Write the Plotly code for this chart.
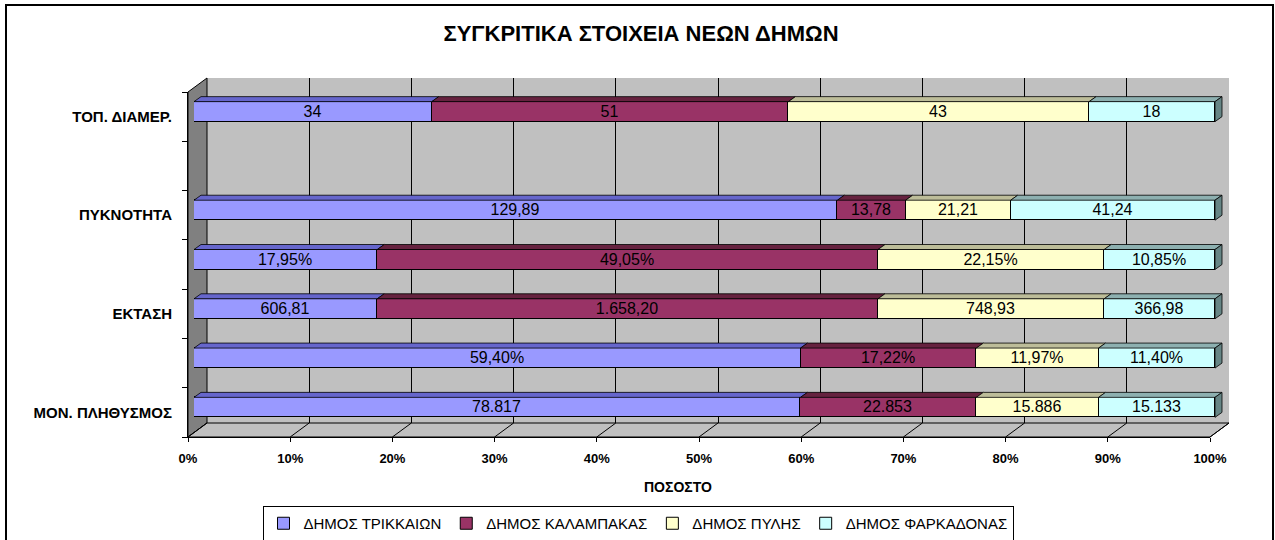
import plotly.graph_objects as go

# ---------------- data ----------------
categories = ["ΜΟΝ. ΠΛΗΘΥΣΜΟΣ", "", "ΕΚΤΑΣΗ", "", "ΠΥΚΝΟΤΗΤΑ", "", "ΤΟΠ. ΔΙΑΜΕΡ."]
series_names = ["ΔΗΜΟΣ ΤΡΙΚΚΑΙΩΝ", "ΔΗΜΟΣ ΚΑΛΑΜΠΑΚΑΣ", "ΔΗΜΟΣ ΠΥΛΗΣ", "ΔΗΜΟΣ ΦΑΡΚΑΔΟΝΑΣ"]
trikala = [78817, 59.40, 606.81, 17.95, 129.89, None, 34]
kalampaka = [22853, 17.22, 1658.20, 49.05, 13.78, None, 51]
pyli = [15886, 11.97, 748.93, 22.15, 21.21, None, 43]
farkadona = [15133, 11.40, 366.98, 10.85, 41.24, None, 18]
label_decimals = [0, 2, 2, 2, 2, 0, 0]
label_suffix = ["", "%", "", "%", "", "", ""]
x_ticks = [0, 10, 20, 30, 40, 50, 60, 70, 80, 90, 100]
x_tick_text = ["0%", "10%", "20%", "30%", "40%", "50%", "60%", "70%", "80%", "90%", "100%"]

series_values = [trikala, kalampaka, pyli, farkadona]

# ---------------- style ----------------
FONT = "Liberation Sans, Arial, sans-serif"
fill_colors = ["#9999FF", "#993366", "#FFFFCC", "#CCFFFF"]
top_colors = ["#6666CC", "#66223F", "#BDBD99", "#8DB0B0"]
end_color = "#668585"

W, H = 1275, 540


def px(x):
    return x / W


def py(y):
    return 1 - y / H


# geometry (pixels)
FRONT_L, FRONT_R, FRONT_B, FRONT_T = 188, 1210, 437, 92
DDX, DDY = 19, -14
BAR_L, BAR_R = 194, 1215
BAR_AX_TOP, BAR_AX_BOT = 87, 432
UNIT = (BAR_R - BAR_L) / 100.0
X_MAX = 101.6
CAT_PX = (BAR_AX_BOT - BAR_AX_TOP) / len(categories)
BAR_W = 20 / CAT_PX
TOP_DX = 7 / UNIT
TOP_DY = 5 / CAT_PX


def gr(v, d, suffix=""):
    s = f"{v:,.{d}f}"
    s = s.replace(",", "#").replace(".", ",").replace("#", ".")
    return s + suffix


fig = go.Figure()

rows = [i for i in range(len(categories)) if trikala[i] is not None]

for k, (name, vals) in enumerate(zip(series_names, series_values)):
    fig.add_trace(go.Bar(
        name=name,
        orientation="h",
        y=rows,
        x=[vals[i] for i in rows],
        width=BAR_W,
        text=[gr(vals[i], label_decimals[i], label_suffix[i]) for i in rows],
        textposition="inside",
        insidetextanchor="middle",
        textangle=0,
        constraintext="none",
        insidetextfont=dict(family=FONT, size=16, color="black"),
        textfont=dict(family=FONT, size=16, color="black"),
        marker=dict(color=fill_colors[k], line=dict(color="black", width=1)),
        xaxis="x2", yaxis="y2",
        hoverinfo="name+text",
        cliponaxis=False,
    ))

# 3D top faces and end caps computed from data
for k in range(4):
    xs, ys = [], []
    for i in rows:
        tot = sum(s[i] for s in series_values)
        a = sum(series_values[j][i] for j in range(k)) / tot * 100
        b = a + series_values[k][i] / tot * 100
        yt = i + BAR_W / 2
        xs += [a, b, b + TOP_DX, a + TOP_DX, a, None]
        ys += [yt, yt, yt + TOP_DY, yt + TOP_DY, yt, None]
    fig.add_trace(go.Scatter(
        x=xs, y=ys, mode="lines", fill="toself", fillcolor=top_colors[k],
        line=dict(color="black", width=0.8), showlegend=False, hoverinfo="skip",
        xaxis="x2", yaxis="y2",
    ))
xs, ys = [], []
for i in rows:
    yb, yt = i - BAR_W / 2, i + BAR_W / 2
    xs += [100, 100, 100 + TOP_DX, 100 + TOP_DX, 100, None]
    ys += [yb, yt, yt + TOP_DY, yb + TOP_DY, yb, None]
fig.add_trace(go.Scatter(
    x=xs, y=ys, mode="lines", fill="toself", fillcolor=end_color,
    line=dict(color="black", width=0.8), showlegend=False, hoverinfo="skip",
    xaxis="x2", yaxis="y2",
))

# dummy traces to anchor the back-wall grid and front axes
fig.add_trace(go.Scatter(x=[None], y=[None], showlegend=False, hoverinfo="skip", xaxis="x", yaxis="y"))
fig.add_trace(go.Scatter(x=[None], y=[None], showlegend=False, hoverinfo="skip", xaxis="x3", yaxis="y3"))

# ---------------- frame shapes ----------------
shapes = []
# outer border
shapes.append(dict(type="rect", xref="paper", yref="paper", x0=px(6), x1=px(1273), y0=py(5), y1=py(560),
                   line=dict(color="black", width=2), fillcolor="rgba(0,0,0,0)", layer="below"))
# back wall
shapes.append(dict(type="rect", xref="paper", yref="paper",
                   x0=px(FRONT_L + DDX), x1=px(FRONT_R + DDX), y0=py(FRONT_B + DDY), y1=py(FRONT_T + DDY),
                   line=dict(width=0), fillcolor="#C0C0C0", layer="below"))
# side wall
shapes.append(dict(type="path", xref="paper", yref="paper",
                   path=f"M {px(FRONT_L)} {py(FRONT_T)} L {px(FRONT_L + DDX)} {py(FRONT_T + DDY)} "
                        f"L {px(FRONT_L + DDX)} {py(FRONT_B + DDY)} L {px(FRONT_L)} {py(FRONT_B)} Z",
                   line=dict(color="black", width=1), fillcolor="#808080", layer="below"))
# floor
shapes.append(dict(type="path", xref="paper", yref="paper",
                   path=f"M {px(FRONT_L)} {py(FRONT_B)} L {px(FRONT_R)} {py(FRONT_B)} "
                        f"L {px(FRONT_R + DDX)} {py(FRONT_B + DDY)} L {px(FRONT_L + DDX)} {py(FRONT_B + DDY)} Z",
                   line=dict(color="black", width=1), fillcolor="#C0C0C0", layer="below"))
for t in x_ticks:
    xf = FRONT_L + (FRONT_R - FRONT_L) * t / 100
    shapes.append(dict(type="line", xref="paper", yref="paper",
                       x0=px(xf), y0=py(FRONT_B), x1=px(xf + DDX), y1=py(FRONT_B + DDY),
                       line=dict(color="black", width=1), layer="below"))

annotations = [
    dict(text="ΠΟΣΟΣΤΟ", xref="paper", yref="paper", x=px(678), y=py(487),
         xanchor="center", yanchor="middle", showarrow=False,
         font=dict(family=FONT, size=14, weight="bold", color="black")),
]

fig.update_layout(
    width=W, height=H,
    template="plotly_white",
    margin=dict(l=0, r=0, t=0, b=0, pad=0, autoexpand=False),
    paper_bgcolor="white",
    plot_bgcolor="rgba(0,0,0,0)",
    barmode="stack",
    barnorm="percent",
    bargap=0,
    showlegend=True,
    font=dict(family=FONT, color="black"),
    title=dict(text="ΣΥΓΚΡΙΤΙΚΑ ΣΤΟΙΧΕΙΑ ΝΕΩΝ ΔΗΜΩΝ", x=px(641), xanchor="center",
               y=py(33), yanchor="middle",
               font=dict(family=FONT, size=22, weight="bold", color="black")),
    legend=dict(orientation="h", x=px(638), xanchor="center", y=py(523.5), yanchor="middle",
                bordercolor="black", borderwidth=1, bgcolor="white",
                font=dict(family=FONT, size=15, color="black"),
                itemwidth=30, traceorder="normal",
                tracegroupgap=0),
    shapes=shapes,
    annotations=annotations,
    # back-wall grid (drawn first)
    xaxis=dict(domain=[px(FRONT_L + DDX), px(FRONT_R + DDX)], range=[0, 100], anchor="y",
               showgrid=True, gridcolor="black", gridwidth=1, tickvals=x_ticks,
               showticklabels=False, ticks="", zeroline=False, showline=False, fixedrange=True,
               automargin=False),
    yaxis=dict(domain=[py(FRONT_B + DDY), py(FRONT_T + DDY)], range=[0, 1], anchor="x",
               visible=False, fixedrange=True, automargin=False),
    # bars
    xaxis2=dict(domain=[px(BAR_L), px(BAR_L + X_MAX * UNIT)], range=[0, X_MAX], anchor="y2",
                visible=False, fixedrange=True, automargin=False),
    yaxis2=dict(domain=[py(BAR_AX_BOT), py(BAR_AX_TOP)], range=[-0.5, len(categories) - 0.5], anchor="x2",
                visible=False, fixedrange=True, automargin=False),
    # front axes with labels
    xaxis3=dict(domain=[px(FRONT_L), px(FRONT_R)], range=[0, 100], anchor="y3",
                tickvals=x_ticks, ticktext=x_tick_text, ticks="outside", ticklen=4, tickcolor="black",
                tickfont=dict(family=FONT, size=13, weight="bold", color="black"),
                ticklabelstandoff=5,
                showline=True, linecolor="black", linewidth=1, showgrid=False, zeroline=False,
                fixedrange=True, automargin=False),
    yaxis3=dict(domain=[py(FRONT_B), py(FRONT_T)], range=[-0.5, len(categories) - 0.5], anchor="x3",
                tickvals=list(range(len(categories))), ticktext=categories, ticks="",
                tickfont=dict(family=FONT, size=15, weight="bold", color="black"),
                ticklabelstandoff=12,
                minor=dict(tick0=-0.5, dtick=1, ticks="outside", ticklen=5, tickcolor="black", showgrid=False),
                showline=True, linecolor="black", linewidth=1, showgrid=False, zeroline=False,
                fixedrange=True, automargin=False),
)

fig.write_html("out.html", config={"displayModeBar": False},
               post_script="document.body.style.margin='0px';document.body.style.overflow='hidden';")
